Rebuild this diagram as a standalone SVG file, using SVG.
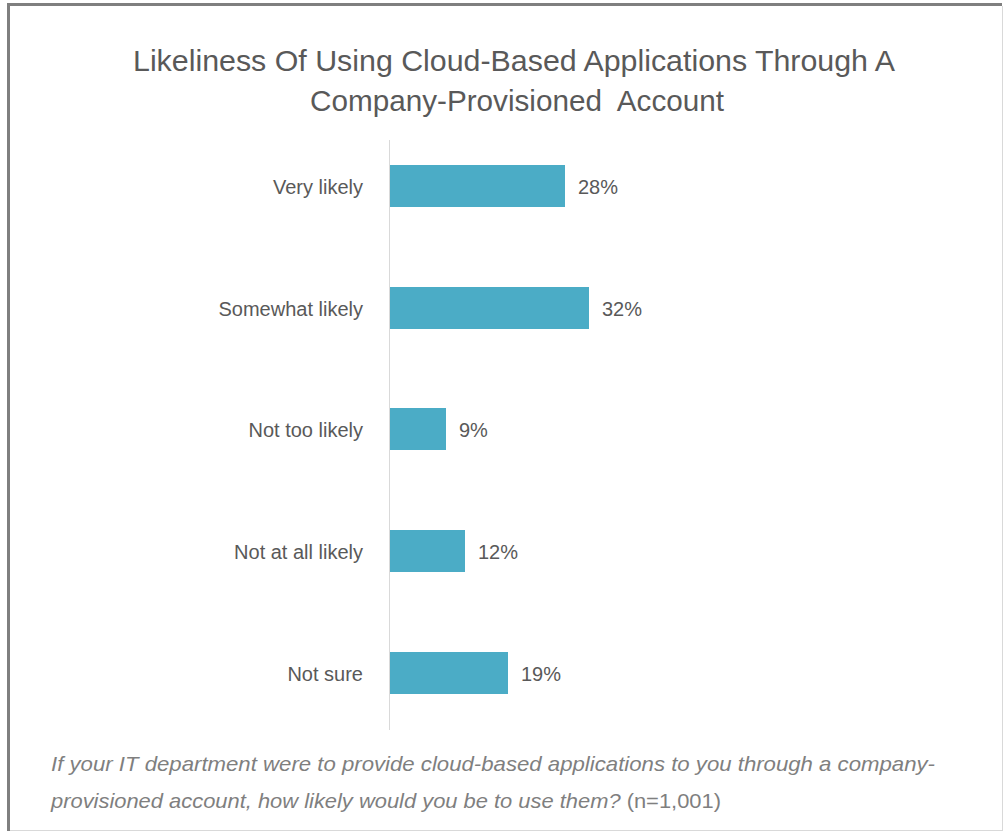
<svg xmlns="http://www.w3.org/2000/svg" width="1004" height="835" viewBox="0 0 1004 835">
<style>
.title{font-family:"Liberation Sans",Arial,sans-serif;font-size:29px;fill:#595959;text-anchor:middle}
.cat{font-family:"Liberation Sans",Arial,sans-serif;font-size:20px;fill:#595959;text-anchor:end}
.val{font-family:"Liberation Sans",Arial,sans-serif;font-size:20px;fill:#595959}
.bar{fill:#4BACC6}
.note{font-family:"Liberation Sans",Arial,sans-serif;font-size:21px;fill:#7f7f7f;font-style:italic}
</style>
<rect x="0" y="0" width="1004" height="835" fill="#ffffff"/>
<g id="frame">
<line x1="8.5" y1="4.5" x2="1002" y2="4.5" stroke="#7f7f7f" stroke-width="3"/>
<line x1="8.5" y1="3" x2="8.5" y2="831" stroke="#7f7f7f" stroke-width="3"/>
<line x1="1002.5" y1="6" x2="1002.5" y2="830" stroke="#d9d9d9" stroke-width="1"/>
<line x1="10" y1="830.5" x2="1003" y2="830.5" stroke="#d9d9d9" stroke-width="1"/>
</g>
<g id="title">
<text class="title" x="514" y="71" textLength="762" lengthAdjust="spacingAndGlyphs">Likeliness Of Using Cloud-Based Applications Through A</text>
<text class="title" x="517" y="111" textLength="414" lengthAdjust="spacingAndGlyphs" xml:space="preserve">Company-Provisioned  Account</text>
</g>
<g id="axis">
<line x1="389.5" y1="140" x2="389.5" y2="730" stroke="#d9d9d9" stroke-width="1"/>
</g>
<g id="bar-very-likely">
<rect class="bar" x="390" y="165" width="175" height="42"/>
<text class="cat" x="363" y="194">Very likely</text>
<text class="val" x="578" y="194">28%</text>
</g>
<g id="bar-somewhat-likely">
<rect class="bar" x="390" y="287" width="199" height="42"/>
<text class="cat" x="363" y="316">Somewhat likely</text>
<text class="val" x="602" y="316">32%</text>
</g>
<g id="bar-not-too-likely">
<rect class="bar" x="390" y="408" width="56" height="42"/>
<text class="cat" x="363" y="437">Not too likely</text>
<text class="val" x="459" y="437">9%</text>
</g>
<g id="bar-not-at-all-likely">
<rect class="bar" x="390" y="530" width="75" height="42"/>
<text class="cat" x="363" y="559">Not at all likely</text>
<text class="val" x="478" y="559">12%</text>
</g>
<g id="bar-not-sure">
<rect class="bar" x="390" y="652" width="118" height="42"/>
<text class="cat" x="363" y="681">Not sure</text>
<text class="val" x="521" y="681">19%</text>
</g>
<g id="footnote">
<text class="note" x="51" y="771" textLength="884" lengthAdjust="spacingAndGlyphs">If your IT department were to provide cloud-based applications to you through a company-</text>
<text class="note" x="51" y="808" textLength="670" lengthAdjust="spacingAndGlyphs">provisioned account, how likely would you be to use them? <tspan font-style="normal">(n=1,001)</tspan></text>
</g>
</svg>
